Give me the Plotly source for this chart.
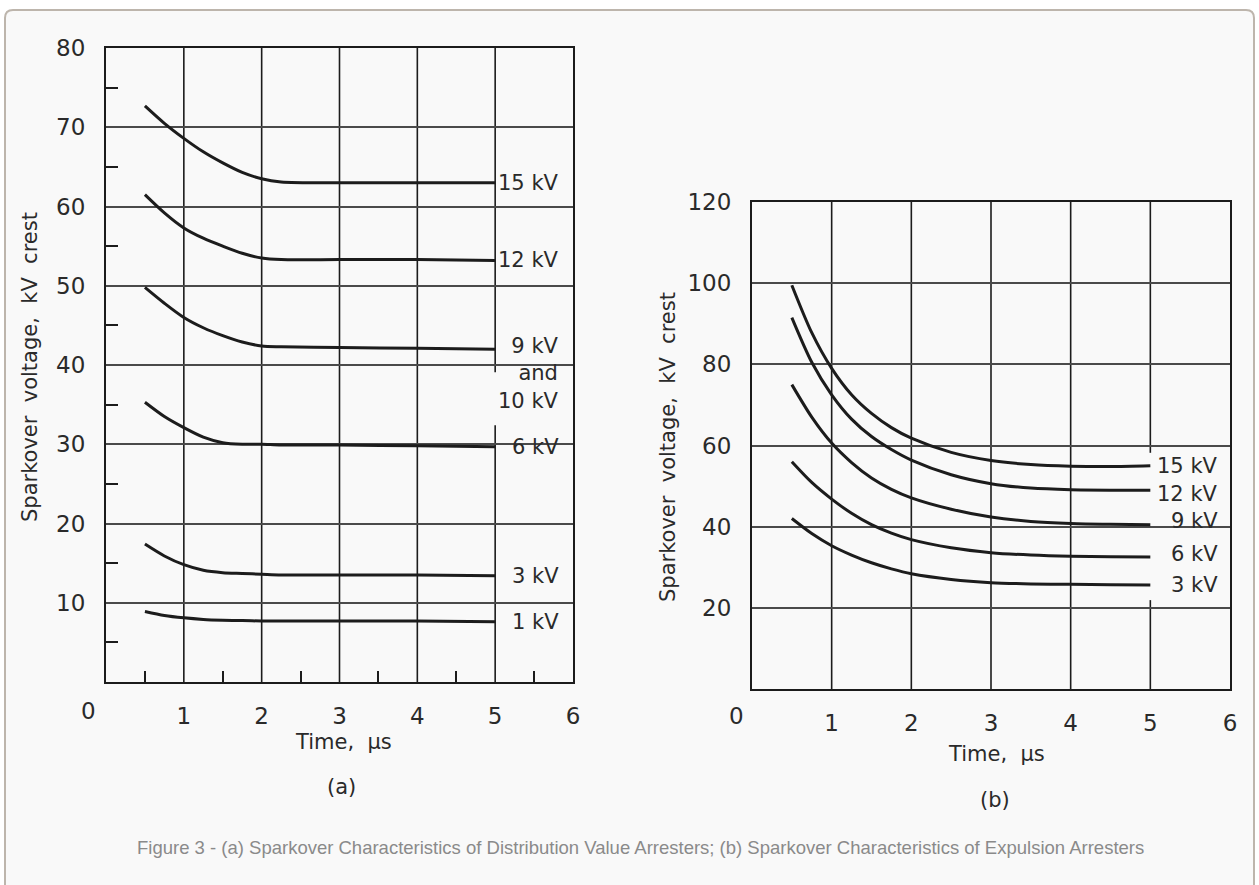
import plotly.graph_objects as go

W, H = 1259, 885

# ---------------- data: (a) distribution valve arresters ----------------
time_a = [0.5, 0.75, 1.0, 1.25, 1.5, 1.75, 2.0, 2.25, 3.0, 4.0, 5.0]
kv15_a = [72.7, 70.5, 68.6, 66.9, 65.5, 64.3, 63.5, 63.1, 63.0, 63.0, 63.0]
kv12_a = [61.5, 59.2, 57.3, 56.0, 55.0, 54.1, 53.5, 53.3, 53.3, 53.3, 53.2]
kv9_a = [49.8, 47.8, 46.0, 44.7, 43.7, 42.9, 42.4, 42.3, 42.2, 42.1, 42.0]
kv6_a = [35.3, 33.5, 32.1, 30.9, 30.2, 30.0, 30.0, 29.9, 29.9, 29.8, 29.7]
kv3_a = [17.4, 15.9, 14.8, 14.1, 13.8, 13.7, 13.6, 13.5, 13.5, 13.5, 13.4]
kv1_a = [8.9, 8.4, 8.1, 7.9, 7.8, 7.75, 7.7, 7.7, 7.7, 7.7, 7.6]
series_a = [kv15_a, kv12_a, kv9_a, kv6_a, kv3_a, kv1_a]
labels_a = ["15 kV", "12 kV", "9 kV<br>and<br>10 kV", "6 kV", "3 kV", "1 kV"]

# ---------------- data: (b) expulsion arresters ----------------
time_b = [0.5, 0.75, 1.0, 1.25, 1.5, 1.75, 2.0, 2.5, 3.0, 3.5, 4.0, 4.5, 5.0]
kv15_b = [99.5, 87.8, 79.0, 72.5, 67.9, 64.4, 61.8, 58.3, 56.3, 55.3, 54.9, 54.8, 55.0]
kv12_b = [91.5, 80.5, 72.5, 66.5, 62.2, 59.0, 56.4, 52.8, 50.6, 49.5, 49.1, 49.0, 49.0]
kv9_b = [75.0, 67.0, 60.6, 55.8, 52.0, 49.2, 47.1, 44.3, 42.4, 41.3, 40.8, 40.6, 40.5]
kv6_b = [56.0, 50.9, 46.8, 43.3, 40.5, 38.4, 36.8, 34.8, 33.6, 33.0, 32.7, 32.6, 32.5]
kv3_b = [42.0, 38.3, 35.3, 33.0, 31.1, 29.6, 28.4, 27.0, 26.2, 25.9, 25.8, 25.7, 25.6]
series_b = [kv15_b, kv12_b, kv9_b, kv6_b, kv3_b]
labels_b = ["15 kV", "12 kV", "9 kV", "6 kV", "3 kV"]

x_ticks = [1, 2, 3, 4, 5, 6]
y_ticks_a = [10, 20, 30, 40, 50, 60, 70, 80]
y_ticks_b = [20, 40, 60, 80, 100, 120]

# ---------------- styling ----------------
INK = "#1c1c1c"
GRID = "#4a4a4a"
TXT = "#2a2a2a"
FONT = "DejaVu Sans"
BG = "#f9f9f9"


def px(xp):
    return xp / W


def py(yp):
    return 1 - yp / H


fig = go.Figure()

for ys in series_a:
    fig.add_trace(go.Scatter(x=time_a, y=ys, mode="lines", xaxis="x", yaxis="y",
                             line=dict(color=INK, width=3, shape="spline", smoothing=0.8),
                             showlegend=False, hoverinfo="skip"))
for ys in series_b:
    fig.add_trace(go.Scatter(x=time_b, y=ys, mode="lines", xaxis="x2", yaxis="y2",
                             line=dict(color=INK, width=3, shape="spline", smoothing=0.8),
                             showlegend=False, hoverinfo="skip"))

tickfont = dict(family=FONT, size=23, color=TXT)
common_x = dict(range=[0, 6], showline=True, mirror=True, linecolor=INK, linewidth=2,
                showgrid=False, zeroline=False, tickmode="array", tickvals=x_ticks,
                ticktext=[str(v) for v in x_ticks], ticks="", tickfont=tickfont,
                ticklabelstandoff=12, fixedrange=True, automargin=False)
common_y = dict(showline=True, mirror=True, linecolor=INK, linewidth=2,
                showgrid=True, gridcolor=GRID, gridwidth=1.5, zeroline=False,
                tickmode="array", ticks="", tickfont=tickfont, ticklabelstandoff=14,
                fixedrange=True, automargin=False)

fig.update_layout(
    width=W, height=H, autosize=False,
    margin=dict(l=0, r=0, t=0, b=0, pad=0),
    paper_bgcolor="white", plot_bgcolor=BG,
    xaxis=dict(domain=[px(106), px(573)], anchor="y",
               minor=dict(ticks="inside", ticklen=11, tickwidth=1.5, tickcolor=INK,
                          tickmode="array", tickvals=[0.5, 1.5, 2.5, 3.5, 4.5, 5.5]),
               **common_x),
    yaxis=dict(domain=[py(682), py(48)], anchor="x", range=[0, 80],
               tickvals=y_ticks_a, ticktext=[str(v) for v in y_ticks_a],
               minor=dict(ticks="inside", ticklen=12, tickwidth=1.5, tickcolor=INK,
                          tickmode="array", tickvals=[5, 15, 25, 35, 45, 55, 65, 75]),
               **common_y),
    xaxis2=dict(domain=[px(752), px(1230)], anchor="y2", **common_x),
    yaxis2=dict(domain=[py(689), py(202)], anchor="x2", range=[0, 120],
                tickvals=y_ticks_b, ticktext=[str(v) for v in y_ticks_b], **common_y),
)

shapes = []
# outer rounded panel
x0, y0, x1, y1, r = 5, 10, 1254, 900, 8
path = (f"M {px(x0 + r)},{py(y0)} L {px(x1 - r)},{py(y0)} Q {px(x1)},{py(y0)} {px(x1)},{py(y0 + r)} "
        f"L {px(x1)},{py(y1)} L {px(x0)},{py(y1)} L {px(x0)},{py(y0 + r)} "
        f"Q {px(x0)},{py(y0)} {px(x0 + r)},{py(y0)} Z")
shapes.append(dict(type="path", path=path, xref="paper", yref="paper",
                   fillcolor=BG, line=dict(color="#bdb5ac", width=2), layer="below"))

# vertical grid lines (with the gaps seen behind the labels at t = 5)
vgrid_a = [(1, 0, 80), (2, 0, 80), (3, 0, 80), (4, 0, 80), (5, 0, 32.4), (5, 39.1, 80)]
vgrid_b = [(1, 0, 120), (2, 0, 120), (3, 0, 120), (4, 0, 120), (5, 0, 21.9), (5, 58.2, 120)]
for xv, ya, yb in vgrid_a:
    shapes.append(dict(type="line", xref="x", yref="y", x0=xv, x1=xv, y0=ya, y1=yb,
                       line=dict(color=INK, width=1.6), layer="below"))
for xv, ya, yb in vgrid_b:
    shapes.append(dict(type="line", xref="x2", yref="y2", x0=xv, x1=xv, y0=ya, y1=yb,
                       line=dict(color=INK, width=1.6), layer="below"))
fig.update_layout(shapes=shapes)

ann = []
lab_font = dict(family=FONT, size=21, color=TXT)
for ys, lab in zip(series_a, labels_a):
    if "<br>" in lab:
        ann.append(dict(x=5.85, y=ys[-1], xref="x", yref="y", text=lab, showarrow=False,
                        xanchor="right", yanchor="top", yshift=17, align="right",
                        font=lab_font))
    else:
        ann.append(dict(x=5.85, y=ys[-1], xref="x", yref="y", text=lab, showarrow=False,
                        xanchor="right", yanchor="middle", font=lab_font))
shift_b = [0, -4, 4, 3, 0]
for ys, lab, sh in zip(series_b, labels_b, shift_b):
    ann.append(dict(x=5.88, y=ys[-1], xref="x2", yref="y2", text=lab, showarrow=False,
                    xanchor="right", yanchor="middle", yshift=sh, font=lab_font))

title_font = dict(family=FONT, size=21, color=TXT)
ytitle = "Sparkover\u00a0 voltage,\u00a0 kV\u00a0 crest"
xtitle = "Time,\u00a0 μs"


def pann(xp, yp, text, font, angle=0):
    return dict(x=px(xp), y=py(yp), xref="paper", yref="paper", text=text,
                showarrow=False, xanchor="center", yanchor="middle",
                textangle=angle, font=font)


ann += [
    pann(88, 711, "0", tickfont),
    pann(736, 716, "0", tickfont),
    pann(30, 367, ytitle, title_font, -90),
    pann(668, 447, ytitle, title_font, -90),
    pann(343, 742, xtitle, title_font),
    pann(996, 754, xtitle, title_font),
    pann(342, 787, "(a)", title_font),
    pann(995, 800, "(b)", title_font),
    pann(640, 847,
         "Figure 3 - (a) Sparkover Characteristics of Distribution Value Arresters; "
         "(b) Sparkover Characteristics of Expulsion Arresters",
         dict(family="Liberation Sans", size=18.5, color="#8a8a8a")),
]
fig.update_layout(annotations=ann)

fig.write_html("out.html", config={"displayModeBar": False},
               post_script="document.body.style.margin='0px';")
